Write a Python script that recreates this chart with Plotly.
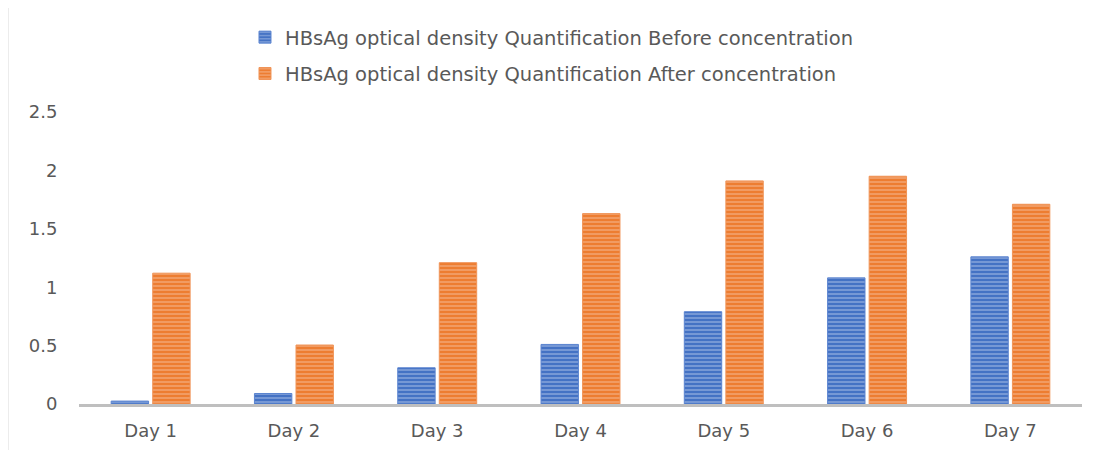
import plotly.graph_objects as go

days = ["Day 1", "Day 2", "Day 3", "Day 4", "Day 5", "Day 6", "Day 7"]
before_conc = [0.025, 0.09, 0.31, 0.51, 0.79, 1.08, 1.26]
after_conc = [1.12, 0.505, 1.21, 1.63, 1.91, 1.95, 1.71]
name_before = "HBsAg optical density Quantification Before concentration"
name_after = "HBsAg optical density Quantification After concentration"
y_ticks = [0, 0.5, 1, 1.5, 2, 2.5]
y_ticklabels = ["0", "0.5", "1", "1.5", "2", "2.5"]

FONT = "DejaVu Sans, Liberation Sans, sans-serif"
L, R, T, B = 71, 20, 104, 46
W, H = 1094, 442
plot_w = W - L - R

fig = go.Figure()
fig.add_trace(go.Bar(
    x=days, y=before_conc, name=name_before, legendgroup="a",
    marker=dict(color="#4472C4", line=dict(color="#5b84d0", width=1),
                pattern=dict(shape="-", fgcolor="#d3def3", size=4, solidity=0.35)),
))
fig.add_trace(go.Bar(
    x=days, y=after_conc, name=name_after, legendgroup="b",
    marker=dict(color="#ED7D31", line=dict(color="#f09458", width=1),
                pattern=dict(shape="-", fgcolor="#f8d3bb", size=4, solidity=0.35)),
))

fig.update_layout(
    width=W, height=H,
    margin=dict(l=L, r=R, t=T, b=B, autoexpand=False),
    paper_bgcolor="white", plot_bgcolor="white",
    barmode="group", bargap=0.42, bargroupgap=0.1,
    font=dict(family=FONT, color="#595959", size=18),
    legend=dict(orientation="v", x=0.1655, xanchor="left", y=1.322, yanchor="top",
                font=dict(size=19.5, color="#595959", family=FONT), tracegroupgap=8,
                bgcolor="rgba(0,0,0,0)"),
    xaxis=dict(showline=True, linecolor="#bfbfbf", linewidth=2.5, showgrid=False,
               automargin=False,
               ticks="outside", tickcolor="rgba(0,0,0,0)", ticklen=9,
               tickfont=dict(size=18, color="#595959", family=FONT)),
    yaxis=dict(range=[0, 2.5], tickvals=y_ticks, ticktext=y_ticklabels,
               showgrid=False, zeroline=False, showline=False, automargin=False,
               ticks="outside", tickcolor="rgba(0,0,0,0)", ticklen=17,
               tickfont=dict(size=18, color="#595959", family=FONT)),
    shapes=[dict(type="line", xref="paper", yref="paper",
                 x0=(-0.5 - L) / plot_w, x1=(-0.5 - L) / plot_w, y0=-0.2, y1=1.4,
                 line=dict(color="#d9d9d9", width=2))],
)

fig.write_html("out.html")
